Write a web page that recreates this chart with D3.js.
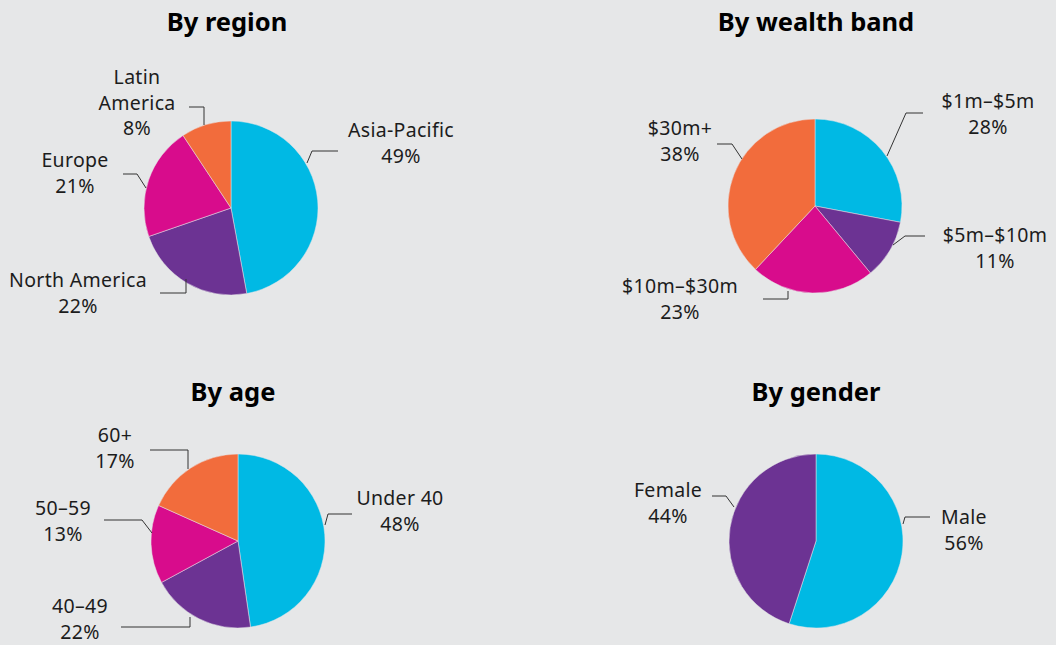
<!DOCTYPE html>
<html lang="en">
<head>
<meta charset="utf-8">
<title>Client breakdown</title>
<script src="https://d3js.org/d3.v7.min.js"></script>
<style>
  body { margin: 0; background: #e6e7e8; }
  svg { display: block; }
  text { font-family: "Noto Sans", sans-serif; fill: #1c1c1c; }
  .title { font-weight: 700; font-size: 25.5px; fill: #000; text-anchor: middle; }
  .lbl { font-size: 19.5px; letter-spacing: 0.3px; text-anchor: middle; }
  .leader { fill: none; stroke: #333; stroke-width: 1; }
</style>
</head>
<body>
<svg width="1056" height="645"></svg>
<script>
// slice sizes as drawn, label texts as printed
const regionNames = ["Asia-Pacific", "North America", "Europe", "Latin America"];
const regionShares = [47.1, 22.6, 21.0, 9.3];
const regionLabels = ["49%", "22%", "21%", "8%"];

const wealthNames = ["$1m–$5m", "$5m–$10m", "$10m–$30m", "$30m+"];
const wealthShares = [28, 11, 23, 38];
const wealthLabels = ["28%", "11%", "23%", "38%"];

const ageNames = ["Under 40", "40–49", "50–59", "60+"];
const ageShares = [47.7, 19.4, 14.6, 18.3];
const ageLabels = ["48%", "22%", "13%", "17%"];

const genderNames = ["Male", "Female"];
const genderShares = [55, 45];
const genderLabels = ["56%", "44%"];

const sliceColors = ["#00b9e4", "#6c3393", "#d80c8c", "#f26c3c"];

const radius = 87;
const lineH = 25.5;

// layout: label positions / leader elbows relative to pie centre
const charts = [
  { title: "By region", cx: 231, cy: 208, tdx: -4, ty: 31,
    names: regionNames, shares: regionShares, labels: regionLabels,
    pos: [
      { x: 170, y: -71, lead: [[107, -57], [81, -57], [76, -45]] },
      { x: -153, y: 79, lead: [[-71, 85], [-45, 85], [-45, 71]] },
      { x: -156, y: -41, lead: [[-108, -34], [-94, -34], [-85, -20]] },
      { x: -94, y: -124, split: true, lead: [[-42, -101], [-27, -101], [-27, -83]] }
    ] },
  { title: "By wealth band", cx: 815, cy: 206, tdx: 1, ty: 31,
    names: wealthNames, shares: wealthShares, labels: wealthLabels,
    pos: [
      { x: 173, y: -98, lead: [[108, -93], [91, -93], [72, -50]] },
      { x: 180, y: 36, lead: [[110, 30], [90, 30], [78, 39]] },
      { x: -135, y: 87, lead: [[-52, 93], [-27, 93], [-27, 85]] },
      { x: -135, y: -71, lead: [[-98, -62], [-83, -62], [-73, -47]] }
    ] },
  { title: "By age", cx: 238, cy: 541, tdx: -5, ty: 401,
    names: ageNames, shares: ageShares, labels: ageLabels,
    pos: [
      { x: 162, y: -36, lead: [[114, -27], [90, -27], [87, -16]] },
      { x: -158, y: 72, lead: [[-117, 86], [-48, 86], [-48, 76]] },
      { x: -175, y: -26, lead: [[-134, -21], [-96, -21], [-86, -8]] },
      { x: -123, y: -99, lead: [[-88, -91], [-50, -91], [-50, -72]] }
    ] },
  { title: "By gender", cx: 816, cy: 541, tdx: 0, ty: 401,
    names: genderNames, shares: genderShares, labels: genderLabels,
    pos: [
      { x: 148, y: -17, lead: [[114, -24], [89, -24], [87, -17]] },
      { x: -148, y: -44, lead: [[-104, -45], [-90, -45], [-82, -34]] }
    ] }
];

const svg = d3.select("svg");
const pie = d3.pie().sort(null).value(d => d);
const arc = d3.arc().innerRadius(0).outerRadius(radius);
const line = d3.line();

charts.forEach(c => {
  svg.append("text")
    .attr("class", "title")
    .attr("x", c.cx + c.tdx)
    .attr("y", c.ty)
    .text(c.title);

  const g = svg.append("g").attr("transform", `translate(${c.cx},${c.cy})`);

  g.selectAll("path.slice")
    .data(pie(c.shares))
    .join("path")
    .attr("class", "slice")
    .attr("d", arc)
    .attr("fill", (d, i) => sliceColors[i])
    .attr("stroke", "#e6e7e8")
    .attr("stroke-width", 0.5);

  c.pos.forEach((p, i) => {
    g.append("path").attr("class", "leader").attr("d", line(p.lead));

    const lines = p.split ? c.names[i].split(" ") : [c.names[i]];
    lines.push(c.labels[i]);
    const t = g.append("text").attr("class", "lbl");
    lines.forEach((s, k) => {
      t.append("tspan").attr("x", p.x).attr("y", p.y + k * lineH).text(s);
    });
  });
});
</script>
</body>
</html>
